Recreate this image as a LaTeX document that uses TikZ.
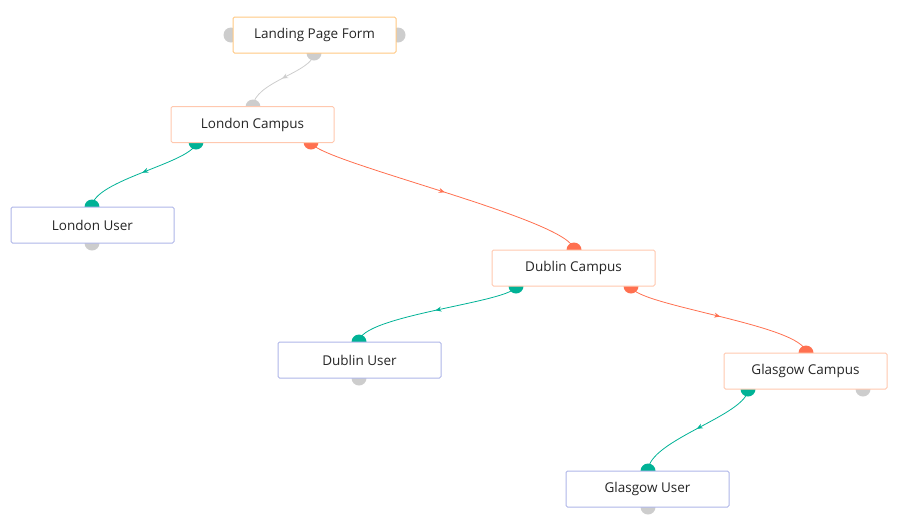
\documentclass[tikz,border=0pt]{standalone}
\usepackage{fontspec}
\setmainfont{Open Sans}
\usetikzlibrary{decorations.markings,arrows.meta}
\definecolor{cgreen}{RGB}{0,178,150}
\definecolor{corange}{RGB}{255,112,80}
\definecolor{cgrey}{RGB}{205,205,205}
\definecolor{bcamp}{RGB}{255,200,175}
\definecolor{bform}{RGB}{255,200,130}
\definecolor{buser}{RGB}{175,182,232}
\tikzset{
 box/.style={draw, fill=white, line width=1pt, rounded corners=1.5pt, minimum width=163pt, minimum height=36pt, inner sep=0pt, font=\fontsize{13.5}{15}\selectfont, text=black!85},
 camp/.style={box, draw=bcamp},
 form/.style={box, draw=bform},
 user/.style={box, draw=buser},
 port/.style={circle, minimum size=15pt, inner sep=0pt},
 conn/.style={line width=0.8pt, postaction={decorate}, decoration={markings, mark=at position 0.5 with {\arrow{Stealth[length=6pt,width=5pt]}}}},
}
\begin{document}
\begin{tikzpicture}[x=1pt,y=-1pt]
\useasboundingbox (0,0) rectangle (902,515);
% ports
\node[port,fill=cgrey] (p1) at (231,35) {};
\node[port,fill=cgrey] (p2) at (398,35) {};
\node[port,fill=cgrey] (fb) at (314,53) {};
\node[port,fill=cgrey] (lct) at (253,107) {};
\node[port,fill=cgreen] (lcg) at (196,142) {};
\node[port,fill=corange] (lco) at (311,142) {};
\node[port,fill=cgreen] (lut) at (92,207) {};
\node[port,fill=cgrey] (lub) at (92,243) {};
\node[port,fill=corange] (dct) at (574,250) {};
\node[port,fill=cgreen] (dcg) at (516,286) {};
\node[port,fill=corange] (dco) at (631,286) {};
\node[port,fill=cgreen] (dut) at (359,342) {};
\node[port,fill=cgrey] (dub) at (359,378) {};
\node[port,fill=corange] (gct) at (806,353) {};
\node[port,fill=cgreen] (gcg) at (748,389) {};
\node[port,fill=cgrey] (gcr) at (863,389) {};
\node[port,fill=cgreen] (gut) at (648,471) {};
\node[port,fill=cgrey] (gub) at (648,507) {};
% connectors
\draw[conn,draw=cgrey] (fb.center) .. controls (314,72) and (253,82) .. (lct.center);
\draw[conn,draw=cgreen] (lcg.center) .. controls (196,162) and (92,180) .. (lut.center);
\draw[conn,draw=corange] (lco.center) .. controls (311,160) and (574,220) .. (dct.center);
\draw[conn,draw=cgreen] (dcg.center) .. controls (516,302) and (359,315) .. (dut.center);
\draw[conn,draw=corange] (dco.center) .. controls (631,305) and (806,325) .. (gct.center);
\draw[conn,draw=cgreen] (gcg.center) .. controls (748,415) and (648,440) .. (gut.center);
% boxes
\node[form] (lpf) at (314.5,35) {Landing Page Form};
\node[camp] (lc) at (252.5,124.5) {London Campus};
\node[user] (lu) at (92.5,225) {London User};
\node[camp] (dc) at (573.5,268) {Dublin Campus};
\node[user] (du) at (359.5,360) {Dublin User};
\node[camp] (gc) at (805.5,371) {Glasgow Campus};
\node[user] (gu) at (647.5,489) {Glasgow User};
\end{tikzpicture}
\end{document}
